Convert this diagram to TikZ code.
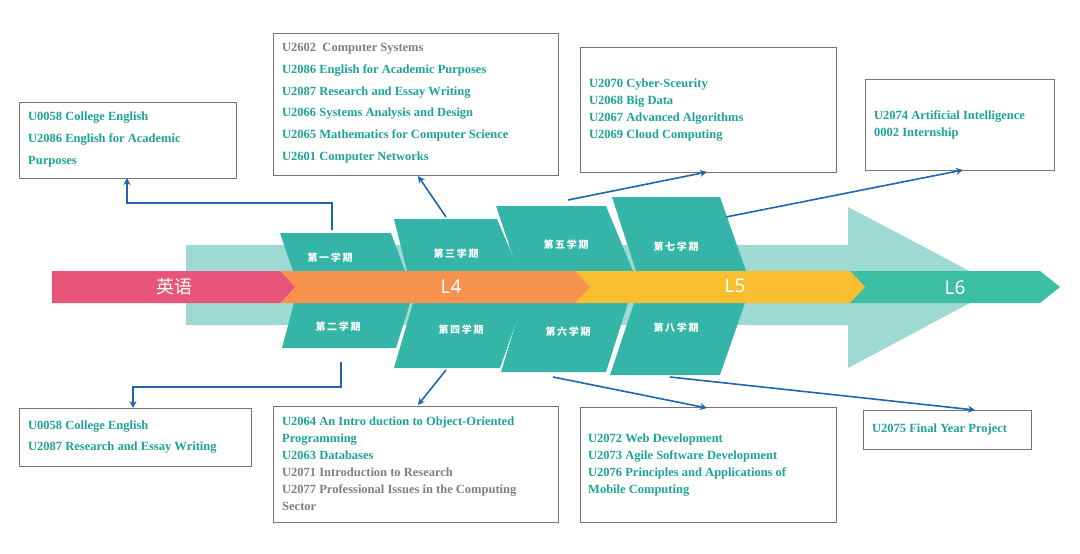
\documentclass[tikz,border=0pt]{standalone}
\usepackage{fontspec}
\setmainfont{Liberation Serif}
\newfontfamily\cjk{Noto Sans CJK SC}
\newfontfamily\lvl{Noto Sans}
\usetikzlibrary{arrows.meta}
\definecolor{crsteal}{HTML}{1DA396}
\definecolor{crsgrey}{HTML}{7F7F7F}
\definecolor{semteal}{HTML}{35B5A8}
\definecolor{paleteal}{HTML}{9ED9D2}
\definecolor{bandpink}{HTML}{E8557A}
\definecolor{bandorange}{HTML}{F6914E}
\definecolor{bandyellow}{HTML}{F9BE2F}
\definecolor{bandgreen}{HTML}{3DBFA3}
\definecolor{linkblue}{HTML}{1F66AE}
\newcommand\ct[1]{{\color{crsteal}#1}}
\newcommand\cg[1]{{\color{crsgrey}#1}}
\tikzset{
  box/.style={draw=black!55,line width=0.8pt,anchor=north west,inner sep=0pt},
  txt/.style={anchor=north west,align=left,inner sep=0pt,font=\fontsize{12.5}{17}\selectfont\bfseries},
  seml/.style={text=white,font=\cjk\bfseries\fontsize{10}{12}\selectfont},
  lvll/.style={text=white,font=\lvl\bfseries\fontsize{19}{22}\selectfont},
  link/.style={draw=linkblue,line width=1.6pt,-{Stealth[length=7pt,width=7pt]}}
}
\begin{document}
\begin{tikzpicture}[x=1pt,y=-1pt]
  \useasboundingbox (0,0) rectangle (1080,554);
  %pale big arrow
  \fill[paleteal] (186,245) -- (848,245) -- (848,207) -- (1000,287) -- (848,368) -- (848,325) -- (186,325) -- cycle;
  %semesters
  \fill[semteal] (280,233) -- (391,233) -- (405,271) -- (293,271) -- cycle;
  \fill[semteal] (294,303) -- (410,303) -- (396,348) -- (282,348) -- cycle;
  \fill[semteal] (394,219) -- (497,219) -- (519,271) -- (407,271) -- cycle;
  \fill[semteal] (413,303) -- (523,303) -- (500,368) -- (394,368) -- cycle;
  \fill[semteal] (496,206) -- (606,206) -- (633,271) -- (518,271) -- cycle;
  \fill[semteal] (522,303) -- (628,303) -- (606,372) -- (501,372) -- cycle;
  \fill[semteal] (612,197) -- (720,197) -- (746,271) -- (636,271) -- cycle;
  \fill[semteal] (634,303) -- (745,303) -- (720,375) -- (610,375) -- cycle;
  %band
  \fill[bandgreen] (850,271) -- (1040,271) -- (1060,287) -- (1040,303) -- (850,303) -- cycle;
  \fill[bandyellow] (575,271) -- (850,271) -- (865,287) -- (850,303) -- (575,303) -- cycle;
  \fill[bandorange] (280,271) -- (575,271) -- (590,287) -- (575,303) -- (280,303) -- cycle;
  \fill[bandpink] (52,271) -- (280,271) -- (295,287) -- (280,303) -- (52,303) -- cycle;
  \node[lvll,font=\cjk\fontsize{18}{20}\selectfont] (en) at (174,287) {英语};
  \node[lvll] (l4) at (451,287) {L4};
  \node[lvll] (l5) at (735,286) {L5};
  \node[lvll] (l6) at (955,288) {L6};
  \node[seml] (s1) at (330,258) {第\,一\,学\,期};
  \node[seml] (s2) at (338,327) {第\,二\,学\,期};
  \node[seml] (s3) at (456,254) {第\,三\,学\,期};
  \node[seml] (s4) at (461,330) {第\,四\,学\,期};
  \node[seml] (s5) at (566,245) {第\,五\,学\,期};
  \node[seml] (s6) at (568,332) {第\,六\,学\,期};
  \node[seml] (s7) at (676,247) {第\,七\,学\,期};
  \node[seml] (s8) at (676,328) {第\,八\,学\,期};
  %course boxes
  \node[box,minimum width=217pt,minimum height=76pt] (bA) at (19,102) {};
  \node[box,minimum width=285pt,minimum height=142pt] (bB) at (273,33) {};
  \node[box,minimum width=256pt,minimum height=125pt] (bC) at (580,47) {};
  \node[box,minimum width=189pt,minimum height=91pt] (bD) at (865,79) {};
  \node[box,minimum width=232pt,minimum height=58pt] (bE) at (19,408) {};
  \node[box,minimum width=285pt,minimum height=116pt] (bF) at (273,406) {};
  \node[box,minimum width=256pt,minimum height=115pt] (bG) at (580,407) {};
  \node[box,minimum width=168pt,minimum height=39pt] (bH) at (863,410) {};
  \node[txt,font=\fontsize{12.5}{22}\selectfont\bfseries] (tA) at (28,112) {\ct{U0058 College English}\\\ct{U2086 English for Academic}\\\ct{Purposes}};
  \node[txt,font=\fontsize{12.5}{21.8}\selectfont\bfseries] (tB) at (282,43) {\cg{U2602\ \ Computer Systems}\\\ct{U2086 English for Academic Purposes}\\\ct{U2087 Research and Essay Writing}\\\ct{U2066 Systems Analysis and Design}\\\ct{U2065 Mathematics for Computer Science}\\\ct{U2601 Computer Networks}};
  \node[txt] (tC) at (589,79) {\ct{U2070 Cyber-Sceurity}\\\ct{U2068 Big Data}\\\ct{U2067 Advanced Algorithms}\\\ct{U2069 Cloud Computing}};
  \node[txt] (tD) at (874,110) {\ct{U2074 Artificial Intelligence}\\\ct{0002 Internship}};
  \node[txt,font=\fontsize{12.5}{21}\selectfont\bfseries] (tE) at (28,421) {\ct{U0058 College English}\\\ct{U2087 Research and Essay Writing}};
  \node[txt] (tF) at (282,417) {\ct{U2064 An Intro duction to Object-Oriented}\\\ct{Programming}\\\ct{U2063 Databases}\\\cg{U2071 Introduction to Research}\\\cg{U2077 Professional Issues in the Computing}\\\cg{Sector}};
  \node[txt] (tG) at (588,434) {\ct{U2072 Web Development}\\\ct{U2073 Agile Software Development}\\\ct{U2076 Principles and Applications of}\\\ct{Mobile Computing}};
  \node[txt] (tH) at (872,424) {\ct{U2075 Final Year Project}};
  %connectors
  \coordinate (c1) at (332,230);
  \coordinate (c2) at (341,362);
  \coordinate (c3) at (446,217);
  \coordinate (c4) at (446,370);
  \coordinate (c5) at (568,200);
  \coordinate (c6) at (726,217);
  \coordinate (c7) at (553,377);
  \coordinate (c8) at (670,377);
  \draw[link] (c1) |- (127,203) -- (127,178);
  \draw[link] (c2) |- (133,387) -- (133,408);
  \draw[link] (c3) -- (418,176);
  \draw[link] (c4) -- (418,405);
  \draw[link] (c5) -- (707,172);
  \draw[link] (c6) -- (963,170);
  \draw[link] (c7) -- (707,408);
  \draw[link] (c8) -- (975,410);
\end{tikzpicture}
\end{document}
